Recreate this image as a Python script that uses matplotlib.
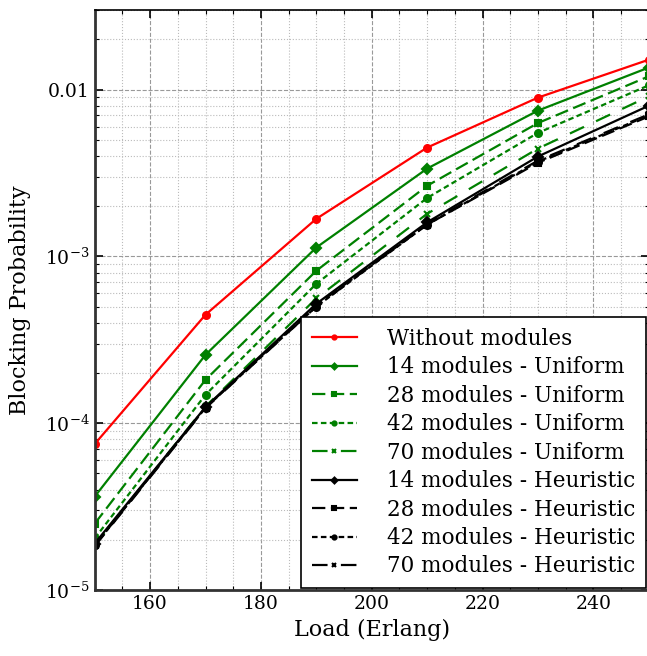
import numpy as np
import matplotlib
matplotlib.use('Agg')
import matplotlib.pyplot as plt

plt.rcParams['font.family'] = ['DejaVu Serif']
plt.rcParams['mathtext.fontset'] = 'dejavuserif'

# load values (Erlang)
load = [150, 170, 190, 210, 230, 250]

# blocking probability per configuration
without_modules = [7.5e-5, 4.47e-4, 1.68e-3, 4.49e-3, 8.95e-3, 1.51e-2]
u14 = [3.63e-5, 2.57e-4, 1.13e-3, 3.36e-3, 7.48e-3, 1.355e-2]
u28 = [2.5e-5, 1.82e-4, 8.2e-4, 2.65e-3, 6.3e-3, 1.2e-2]
u42 = [2.04e-5, 1.48e-4, 6.85e-4, 2.24e-3, 5.5e-3, 1.06e-2]
u70 = [1.86e-5, 1.26e-4, 5.6e-4, 1.8e-3, 4.43e-3, 9.1e-3]
h14 = [1.9e-5, 1.25e-4, 5.2e-4, 1.6e-3, 3.97e-3, 8.0e-3]
h28 = [1.85e-5, 1.24e-4, 5.1e-4, 1.55e-3, 3.64e-3, 6.9e-3]
h42 = [1.85e-5, 1.24e-4, 5.0e-4, 1.55e-3, 3.7e-3, 7.0e-3]
h70 = [1.83e-5, 1.23e-4, 5.0e-4, 1.57e-3, 3.75e-3, 7.1e-3]

labels = ['Without modules',
          '14 modules - Uniform', '28 modules - Uniform',
          '42 modules - Uniform', '70 modules - Uniform',
          '14 modules - Heuristic', '28 modules - Heuristic',
          '42 modules - Heuristic', '70 modules - Heuristic']

ytick_vals = [1e-5, 1e-4, 1e-3, 1e-2]
ytick_labels = [r'$10^{-5}$', r'$10^{-4}$', r'$10^{-3}$', '0.01']
xtick_vals = [160, 180, 200, 220, 240]

fig = plt.figure(figsize=(6.47, 6.56), dpi=100)
ax = fig.add_axes([94.7 / 647, 66 / 656, 554 / 647, 580 / 656])

green = '#008000'
series = [
    (without_modules, 'red', '-', 'o'),
    (u14, green, '-', 'D'),
    (u28, green, (0, (6, 2.5)), 's'),
    (u42, green, (0, (2.5, 1.5)), 'o'),
    (u70, green, (0, (7, 6)), 'x'),
    (h14, 'black', '-', 'D'),
    (h28, 'black', (0, (6, 2.5)), 's'),
    (h42, 'black', (0, (2.5, 1.5)), 'o'),
    (h70, 'black', (0, (7, 6)), 'x'),
]

for (vals, col, ls, mk), lab in zip(series, labels):
    ax.plot(load, vals, color=col, linestyle=ls, marker=mk, markersize=5,
            markeredgewidth=1.5, linewidth=1.6, label=lab)

ax.set_yscale('log')
ax.set_xlim(150, 250)
ax.set_ylim(1e-5, 3e-2)
ax.set_yticks(ytick_vals)
ax.set_yticklabels(ytick_labels)
ax.set_xticks(xtick_vals)
ax.set_xticks(np.arange(150, 251, 5), minor=True)

ax.grid(True, which='major', color='#999999', linestyle='--', linewidth=0.8)
ax.grid(True, which='minor', color='#bbbbbb', linestyle=':', linewidth=0.8)

ax.tick_params(which='both', direction='in', top=True, right=True, labelsize=13.5)
ax.tick_params(which='major', length=6, width=1.2)
ax.tick_params(which='minor', length=3, width=0.8)

for side in ['left', 'bottom']:
    ax.spines[side].set_linewidth(2)
    ax.spines[side].set_color('#333333')
ax.spines['top'].set_linewidth(1.2)

ax.set_xlabel('Load (Erlang)', fontsize=16)
ax.set_ylabel('Blocking Probability', fontsize=16, labelpad=10)

leg = ax.legend(loc='lower left', bbox_to_anchor=(0.372, 0.003), fontsize=15.5,
                frameon=True, fancybox=False, edgecolor='black', framealpha=1,
                markerscale=0.6, handlelength=2.1, handletextpad=1.4,
                borderaxespad=0, labelspacing=0.3, borderpad=0.5)
leg.get_frame().set_linewidth(1.2)

fig.savefig('out.png', dpi=100)
